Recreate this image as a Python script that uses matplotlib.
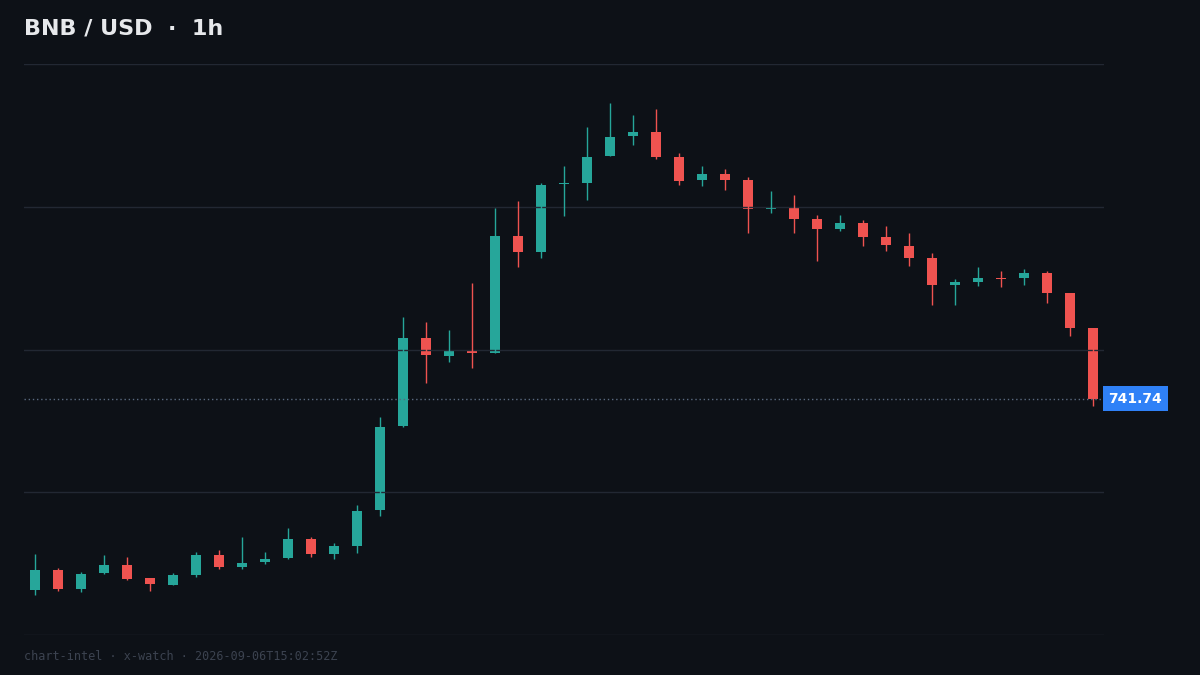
import matplotlib.pyplot as plt
import numpy as np

# OHLC, 1h candles
opens = [722.64, 724.64, 722.74, 724.34, 725.14, 723.84, 723.14, 724.14, 726.14, 724.94,
         725.44, 725.84, 727.74, 726.24, 727.04, 730.64, 739.04, 747.74, 746.04, 746.54,
         746.34, 757.94, 756.34, 763.14, 763.24, 765.94, 767.94, 768.34, 765.84, 763.54,
         764.14, 763.54, 760.64, 760.84, 759.64, 758.64, 759.24, 757.84, 756.94, 755.74,
         753.04, 753.34, 753.74, 753.74, 754.24, 752.24, 748.74]
closes = [724.64, 722.74, 724.24, 725.14, 723.74, 723.24, 724.14, 726.14, 724.94, 725.34,
          725.74, 727.74, 726.24, 727.04, 730.54, 738.94, 747.74, 746.14, 746.54, 746.34,
          757.94, 756.34, 763.04, 763.24, 765.84, 767.84, 768.34, 765.84, 763.44, 764.14,
          763.54, 760.64, 760.84, 759.64, 758.64, 759.24, 757.84, 757.04, 755.74, 753.04,
          753.34, 753.74, 753.64, 754.24, 752.24, 748.74, 741.74]
highs = [726.24, 724.84, 724.44, 726.14, 725.94, 723.84, 724.34, 726.44, 726.64, 727.94,
         726.44, 728.84, 727.94, 727.34, 731.14, 739.94, 749.84, 749.34, 748.54, 753.24,
         760.74, 761.44, 763.24, 764.94, 768.84, 771.24, 770.04, 770.64, 766.24, 764.94,
         764.64, 763.84, 762.44, 762.04, 760.04, 760.04, 759.54, 758.94, 758.24, 756.24,
         753.64, 754.84, 754.44, 754.64, 754.44, 752.24, 748.74]
lows = [722.14, 722.54, 722.44, 724.24, 723.64, 722.54, 723.14, 723.94, 724.74, 724.74,
        725.24, 725.74, 725.94, 725.74, 726.34, 730.04, 738.94, 743.34, 745.44, 744.84,
        746.34, 754.84, 755.74, 759.94, 761.54, 765.94, 767.04, 765.64, 763.04, 762.94,
        762.54, 758.24, 760.24, 758.24, 755.44, 758.44, 756.94, 756.44, 754.94, 751.04,
        751.04, 752.94, 752.84, 753.04, 751.24, 747.94, 741.04]
last_price = 741.74

bg = '#0d1117'
up, down = '#26a69a', '#ef5350'

fig = plt.figure(figsize=(12, 6.75), dpi=100, facecolor=bg)
ax = fig.add_axes([24 / 1200, 1 - 635 / 675, 1080 / 1200, 571 / 675])
ax.set_facecolor(bg)

x = np.arange(len(opens))
for i in x:
    o, c, h, l = opens[i], closes[i], highs[i], lows[i]
    col = up if c >= o else down
    ax.vlines(i, l, h, color=col, linewidth=1)
    ax.bar(i, max(abs(c - o), 0.12), bottom=min(o, c), width=0.43, color=col, linewidth=0)

ax.set_xlim(-0.48, 46.48)
ax.set_ylim(718.14, 775.14)
ax.set_yticks(np.linspace(718.14, 775.14, 5))
ax.grid(axis='y', color='#222833', linewidth=1)
ax.tick_params(left=False, bottom=False, labelleft=False, labelbottom=False)
for s in ax.spines.values():
    s.set_visible(False)

ax.axhline(last_price, color='#5a6a80', linestyle=(0, (1, 2)), linewidth=1)
ax.text(1.004, last_price, f'{last_price:.2f}', transform=ax.get_yaxis_transform(),
        ha='left', va='center', color='white', fontsize=10, fontweight='bold',
        bbox=dict(boxstyle='square,pad=0.4', facecolor='#2f81f7', edgecolor='none'))

fig.text(24 / 1200, 1 - 29 / 675, 'BNB / USD  ·  1h', color='#e6e8eb', fontsize=16,
         fontweight='bold', va='center', ha='left')
fig.text(24 / 1200, 1 - 656 / 675, 'chart-intel · x-watch · 2026-09-06T15:02:52Z',
         color='#3c4350', fontsize=8.5, family='DejaVu Sans Mono', va='center', ha='left')

plt.savefig('out.png', facecolor=bg)
